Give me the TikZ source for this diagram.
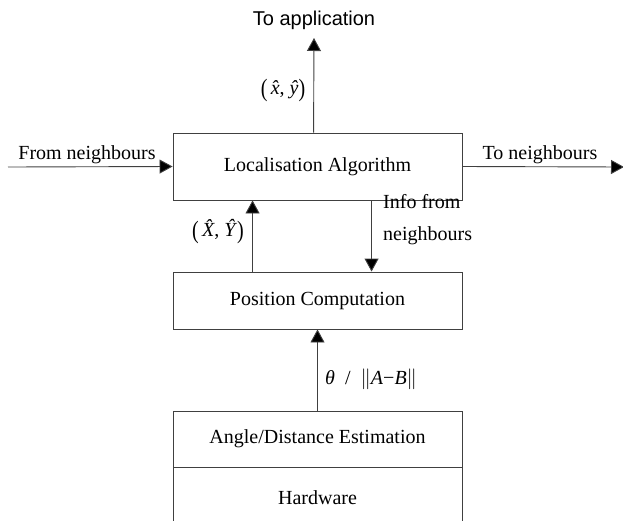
\documentclass[tikz,border=0pt]{standalone}
\usepackage{fontspec}
\setmainfont{Liberation Serif}
\newfontfamily\arialfont{Liberation Sans}
\usetikzlibrary{arrows.meta}
\tikzset{
  blk/.style={draw=black!75, line width=0.9pt, minimum width=289pt, inner sep=0pt, font=\fontsize{20}{24}\selectfont},
  conn/.style={draw=black!75, line width=0.9pt, -{Triangle[length=13pt,width=14pt,fill=black]}},
  lbl/.style={inner sep=0pt, font=\fontsize{20}{24}\selectfont},
}
\newcommand{\tallp}[1]{\raisebox{-0.1em}{\scalebox{1}[1.25]{#1}}}
\begin{document}
\begin{tikzpicture}[x=1pt,y=-1pt]
\useasboundingbox (0,0) rectangle (623,520);
\clip (0,0) rectangle (623,520);
\node[blk, minimum height=67pt] (loc) at (317.5,166.5) {Localisation Algorithm};
\node[blk, minimum height=57pt] (pos) at (317.5,300.5) {Position Computation};
\node[blk, minimum height=56pt] (ang) at (317.5,439) {Angle/Distance Estimation};
\node[blk, minimum height=60pt, anchor=north] (hw) at (ang.south) {Hardware};

\coordinate (app) at (314,38);
\coordinate (fromn) at (8,167);
\coordinate (ton) at (624,167);

\draw[conn] ([xshift=141pt]loc.north west) -- (app);
\draw[conn] (fromn) -- (loc.west);
\draw[conn] (loc.east) -- (ton);
\draw[conn] ([xshift=80pt]pos.north west) -- ([xshift=80pt]loc.south west);
\draw[conn] ([xshift=199pt]loc.south west) -- ([xshift=199pt]pos.north west);
\draw[conn] (ang.north) -- (pos.south);

\node[lbl, font=\arialfont\fontsize{20}{24}\selectfont] (tapp) at (314,20) {To application};
\node[lbl] (xy) at (283,90) {\tallp{(}\,\textit{\^x}, \textit{\^y}\tallp{)}};
\node[lbl] (fn) at (87,155) {From neighbours};
\node[lbl] (tn) at (540,155) {To neighbours};
\node[lbl, anchor=west] (if1) at (383,202) {Info from};
\node[lbl, anchor=west] (if2) at (383,236) {neighbours};
\node[lbl] (XY) at (218,232) {\tallp{(}\,\textit{\^X}, \textit{\^Y}\tallp{)}};
\node[lbl, anchor=west] (th) at (325,379) {\textit{θ} \ / \ $\|$\textit{A}−\textit{B}$\|$};
\end{tikzpicture}
\end{document}
